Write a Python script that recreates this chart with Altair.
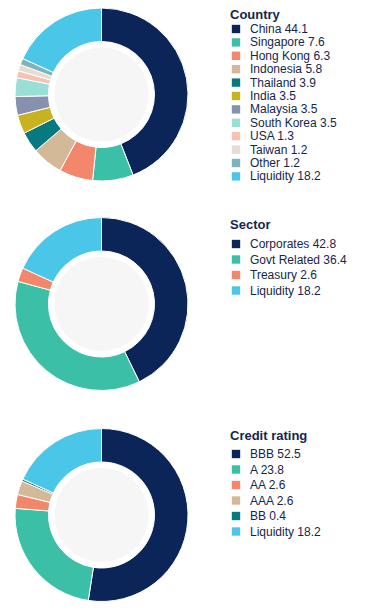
import math
import altair as alt
import pandas as pd

# ---- data ----
country_names = ["China", "Singapore", "Hong Kong", "Indonesia", "Thailand", "India",
                 "Malaysia", "South Korea", "USA", "Taiwan", "Other", "Liquidity"]
country_values = [44.1, 7.6, 6.3, 5.8, 3.9, 3.5, 3.5, 3.5, 1.3, 1.2, 1.2, 18.2]
country_colors = ["#0b2559", "#3bbfa7", "#f2876b", "#d4b998", "#077a80", "#c9b21f",
                  "#8591ad", "#9adfd6", "#f6c2b2", "#e6ddd2", "#7db3bb", "#4ac6e8"]

sector_names = ["Corporates", "Govt Related", "Treasury", "Liquidity"]
sector_values = [42.8, 36.4, 2.6, 18.2]
sector_colors = ["#0b2559", "#3bbfa7", "#f2876b", "#4ac6e8"]

rating_names = ["BBB", "A", "AA", "AAA", "BB", "Liquidity"]
rating_values = [52.5, 23.8, 2.6, 2.6, 0.4, 18.2]
rating_colors = ["#0b2559", "#3bbfa7", "#f2876b", "#d4b998", "#077a80", "#4ac6e8"]

FONT = "Liberation Sans"
TEXT_COLOR = "#14264d"
OUTER_R = 86.5
INNER_R = 53
CX = 93.5
LEG_X = 222


def make_df(names, values):
    labels = [f"{n} {v}" for n, v in zip(names, values)]
    return pd.DataFrame({"label": labels, "value": values, "idx": list(range(len(names)))}), labels


def donut(names, values, colors, title, cy, leg_y, row_pad, title_pad):
    df, labels = make_df(names, values)
    arc = alt.Chart(df).mark_arc(
        outerRadius=OUTER_R, innerRadius=INNER_R, stroke="white", strokeWidth=1
    ).encode(
        x=alt.value(CX), y=alt.value(cy),
        theta=alt.Theta("value:Q", stack=True),
        order=alt.Order("idx:Q"),
        color=alt.Color(
            "label:N",
            scale=alt.Scale(domain=labels, range=colors),
            legend=alt.Legend(
                orient="none", legendX=LEG_X, legendY=leg_y, title=title,
                titleFont=FONT, titleFontSize=13, titleFontWeight="bold",
                titleColor=TEXT_COLOR, titlePadding=title_pad,
                labelFont=FONT, labelFontSize=12, labelColor=TEXT_COLOR,
                labelOffset=8, symbolType="square", symbolSize=70,
                symbolStrokeWidth=0, rowPadding=row_pad, labelLimit=200,
            ),
        ),
    )
    hole = alt.Chart(pd.DataFrame({"k": [0]})).mark_circle(
        size=math.pi * INNER_R ** 2, color="#f6f6f6", opacity=1
    ).encode(x=alt.value(CX), y=alt.value(cy))
    return [hole, arc]


layers = (
    donut(country_names, country_values, country_colors, "Country", 86.5, 1, 1.4, 1)
    + donut(sector_names, sector_values, sector_colors, "Sector", 296, 211, 3.5, 6)
    + donut(rating_names, rating_values, rating_colors, "Credit rating", 507, 422, 3.5, 5)
)

chart = alt.layer(*layers).resolve_scale(
    color="independent", theta="independent"
).properties(
    width=372, height=600, padding=0, autosize=alt.AutoSizeParams(type="none")
).configure_view(stroke=None)

chart.save("out.html", embed_options={"renderer": "svg", "actions": False})
